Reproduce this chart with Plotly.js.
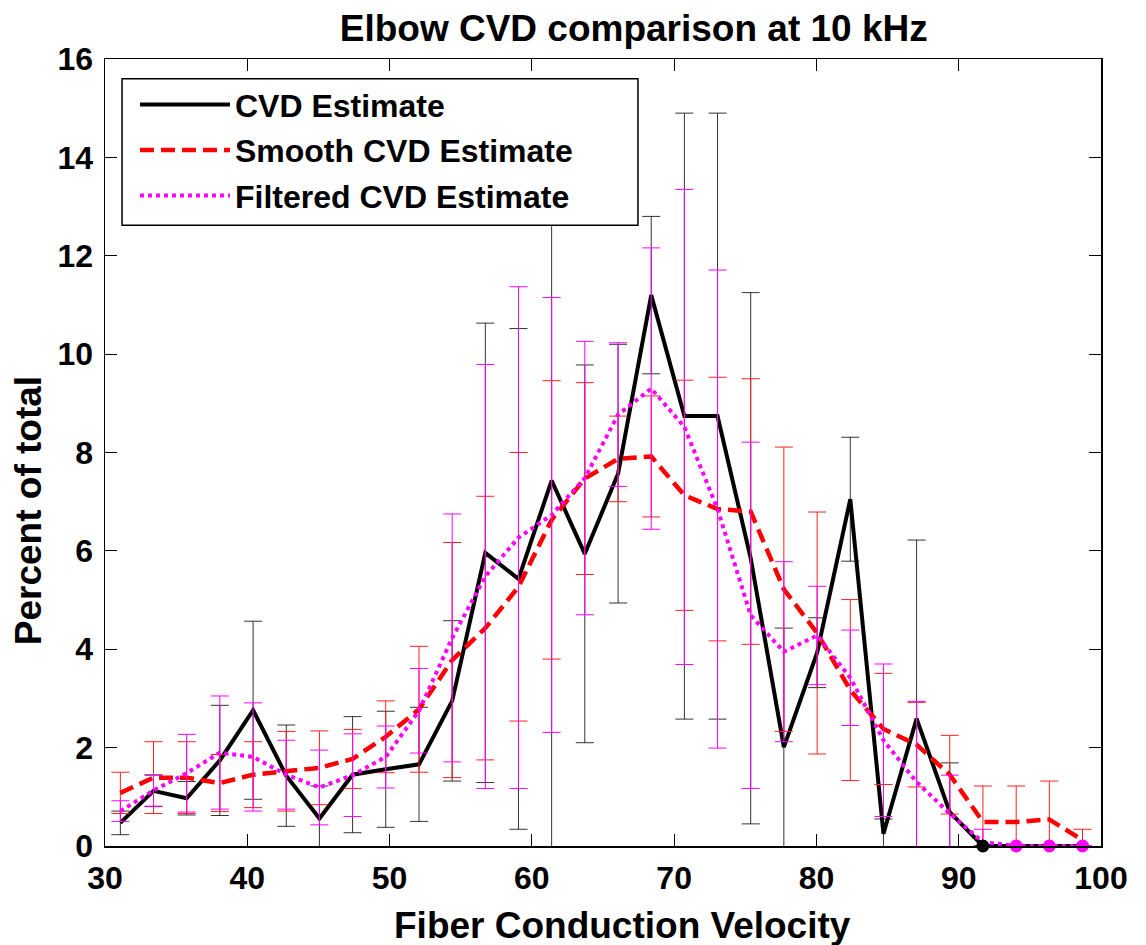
<!DOCTYPE html>
<html>
<head>
<meta charset="utf-8">
<script src="https://cdn.plot.ly/plotly-3.0.1.min.js"></script>
<style>html,body{margin:0;padding:0;background:#fff;}#chart{width:1146px;height:945px;}</style>
</head>
<body>
<div id="chart"></div>
<script>
// Fiber conduction velocity bin centres
const velocity = [31.08, 33.41, 35.74, 38.07, 40.41, 42.74, 45.07, 47.40, 49.73, 52.07,
  54.40, 56.73, 59.06, 61.39, 63.72, 66.06, 68.39, 70.72, 73.05, 75.38,
  77.71, 80.05, 82.38, 84.71, 87.04, 89.37, 91.70, 94.04, 96.37, 98.70];

// CVD Estimate
const cvd = [0.47, 1.12, 0.97, 1.74, 2.76, 1.43, 0.56, 1.45, 1.56, 1.66,
  2.95, 5.96, 5.43, 7.43, 5.94, 7.57, 11.2, 8.74, 8.74, 5.85,
  2.01, 3.93, 7.05, 0.25, 2.59, 0.69, 0, 0, 0, 0];
const cvdErr = [0.24, 0.32, 0.34, 1.12, 1.81, 1.03, 0.66, 1.18, 1.18, 1.16,
  1.63, 4.67, 5.09, 7.6, 3.84, 2.63, 1.6, 6.16, 6.16, 5.4,
  2.42, 0.71, 1.26, 0.3, 3.63, 1.0, 0, 0, 0, 0];

// Smooth CVD Estimate
const smooth = [1.08, 1.39, 1.39, 1.28, 1.45, 1.52, 1.59, 1.77, 2.22, 2.78,
  3.78, 4.43, 5.27, 6.63, 7.47, 7.87, 7.92, 7.13, 6.85, 6.8,
  5.22, 4.33, 3.17, 2.38, 2.06, 1.45, 0.49, 0.49, 0.54, 0.12];
const smoothErr = [0.42, 0.73, 0.73, 0.58, 0.67, 0.81, 0.75, 0.6, 0.73, 1.28,
  2.39, 2.68, 2.73, 2.83, 1.95, 0.87, 1.23, 2.34, 2.68, 2.7,
  2.89, 2.46, 1.84, 1.13, 0.86, 0.8, 0.73, 0.73, 0.78, 0.22];

// Filtered CVD Estimate
const filtered = [0.71, 1.13, 1.48, 1.9, 1.81, 1.45, 1.19, 1.44, 1.81, 2.75,
  4.23, 5.48, 6.27, 6.73, 7.48, 8.77, 9.3, 8.52, 6.85, 4.69,
  3.95, 4.28, 3.42, 2.15, 1.3, 0.66, 0.08, 0, 0, 0];
const filteredErr = [0.21, 0.32, 0.79, 1.15, 1.1, 0.7, 0.76, 0.84, 0.63, 0.86,
  2.52, 4.31, 5.1, 4.42, 2.78, 1.46, 2.86, 4.83, 4.86, 3.52,
  1.83, 1.0, 0.97, 1.55, 1.64, 0.78, 0.26, 0, 0, 0];

// Zero-valued points drawn with round markers
const cvdZeroIdx = [26];
const filteredZeroIdx = [27, 28, 29];

const xTicks = [30, 40, 50, 60, 70, 80, 90, 100];
const yTicks = [0, 2, 4, 6, 8, 10, 12, 14, 16];

const xTitle = 'Fiber Conduction Velocity';
const yTitle = 'Percent of total';

const FONT = 'Arial, "Liberation Sans", Helvetica, sans-serif';
const titleFont = {family: FONT, size: 37, weight: 'bold', color: '#000'};

const traces = [
  {
    x: velocity, y: cvd, type: 'scatter', mode: 'lines', name: 'CVD Estimate',
    legendgroup: 'a',
    line: {color: '#000000', width: 4},
    error_y: {type: 'data', array: cvdErr, visible: true, color: 'rgba(0,0,0,0.8)', thickness: 1, width: 9}
  },
  {
    x: velocity, y: smooth, type: 'scatter', mode: 'lines', name: 'Smooth CVD Estimate',
    legendgroup: 'b',
    line: {color: '#ff0000', width: 4.5, dash: '14px,7px'},
    error_y: {type: 'data', array: smoothErr, visible: true, color: '#ff2020', thickness: 1, width: 9}
  },
  {
    x: velocity, y: filtered, type: 'scatter', mode: 'lines', name: 'Filtered CVD Estimate',
    legendgroup: 'c',
    line: {color: '#ff00ff', width: 4, dash: 'dot'},
    error_y: {type: 'data', array: filteredErr, visible: true, color: '#ff00ff', thickness: 1, width: 9}
  },
  {
    x: cvdZeroIdx.map(i => velocity[i]), y: cvdZeroIdx.map(i => cvd[i]),
    type: 'scatter', mode: 'markers', showlegend: false, cliponaxis: false,
    marker: {color: '#000000', size: 13}
  },
  {
    x: filteredZeroIdx.map(i => velocity[i]), y: filteredZeroIdx.map(i => filtered[i]),
    type: 'scatter', mode: 'markers', showlegend: false, cliponaxis: false,
    marker: {color: '#ff00ff', size: 13}
  }
];

const layout = {
  width: 1146, height: 945,
  paper_bgcolor: '#ffffff', plot_bgcolor: '#ffffff',
  margin: {l: 105, r: 45, t: 59, b: 99, pad: 0},
  font: {family: FONT, color: '#000000'},
  title: {
    text: 'Elbow CVD comparison at 10 kHz',
    font: titleFont,
    x: 0.553, xref: 'container', xanchor: 'center',
    y: 0.984, yref: 'container', yanchor: 'top'
  },
  xaxis: {
    range: [30, 100], tickmode: 'array', tickvals: xTicks, ticktext: xTicks.map(String),
    ticks: 'inside', ticklen: 12, tickwidth: 1, tickcolor: '#000',
    showline: true, linecolor: '#000', linewidth: 1.5, mirror: 'ticks',
    showgrid: false, zeroline: false,
    tickfont: {family: FONT, size: 32, weight: 'bold', color: '#000'},
    ticklabelstandoff: 3
  },
  yaxis: {
    range: [0, 16], tickmode: 'array', tickvals: yTicks, ticktext: yTicks.map(String),
    ticks: 'inside', ticklen: 12, tickwidth: 1, tickcolor: '#000',
    showline: true, linecolor: '#000', linewidth: 1.5, mirror: 'ticks',
    showgrid: false, zeroline: false,
    tickfont: {family: FONT, size: 32, weight: 'bold', color: '#000'},
    ticklabelstandoff: 4
  },
  annotations: [
    {
      text: xTitle, font: titleFont, showarrow: false,
      xref: 'paper', yref: 'paper', x: 0.5196, y: -0.1006,
      xanchor: 'center', yanchor: 'middle'
    },
    {
      text: yTitle, font: titleFont, showarrow: false, textangle: -90,
      xref: 'paper', yref: 'paper', x: -0.0773, y: 0.4254,
      xanchor: 'center', yanchor: 'middle'
    }
  ],
  shapes: [{
    type: 'rect', xref: 'paper', yref: 'paper', layer: 'above',
    x0: 0.0171, x1: 0.5351, y0: 0.7888, y1: 0.975,
    fillcolor: '#ffffff', line: {color: '#000000', width: 1.5}
  }],
  legend: {
    x: 0.0301, y: 0.977, xanchor: 'left', yanchor: 'top',
    bgcolor: 'rgba(0,0,0,0)', borderwidth: 0,
    font: {family: FONT, size: 32, weight: 'bold', color: '#000'},
    itemwidth: 90, tracegroupgap: 1, traceorder: 'grouped'
  },
  showlegend: true
};

Plotly.newPlot('chart', traces, layout, {displayModeBar: false, staticPlot: true});
</script>
</body>
</html>
